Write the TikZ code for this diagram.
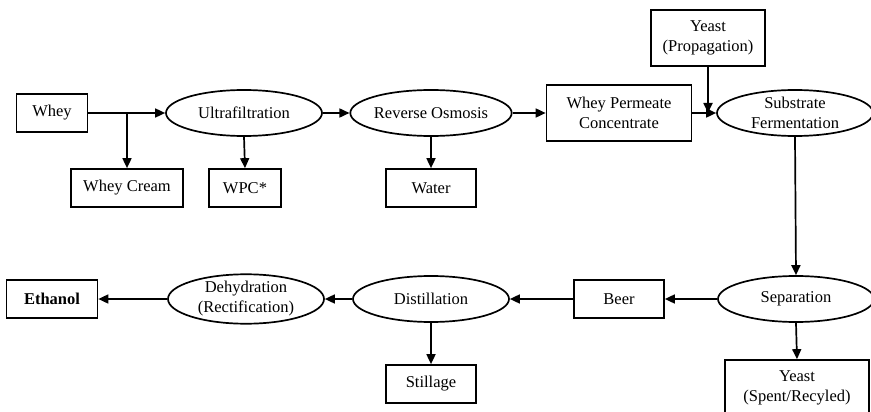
\documentclass[tikz,border=0pt]{standalone}
\usepackage{fontspec}
\setmainfont{Liberation Serif}
\usetikzlibrary{shapes.geometric, arrows.meta}

\begin{document}
\begin{tikzpicture}[x=1pt, y=-1pt, >={Triangle[length=10pt,width=9pt]}, font=\fontsize{16.5}{20}\selectfont]
    \tikzstyle{box} = [rectangle, draw=black, line width=1.7pt, minimum height=38pt, inner sep=2pt, align=center]
    \tikzstyle{tallbox} = [box, minimum height=56pt]
    \tikzstyle{unit} = [ellipse, draw=black, line width=1.7pt, minimum width=156pt, minimum height=46pt,
      inner sep=0pt, align=center]
    \tikzstyle{flow} = [->, line width=1.7pt]

    \useasboundingbox (0,0) rectangle (871,412);

    % Top row: whey through fermentation
    \node (whey)   [box, minimum width=71pt]       at (52,113)  {Whey};
    \node (ultra)  [unit]                          at (244,113) {Ultrafiltration};
    \node (ro)     [unit]                          at (431,113) {Reverse Osmosis};
    \node (perm)   [tallbox, minimum width=145pt]  at (619,113) {Whey Permeate\\Concentrate};
    \node (ferm)   [unit]                          at (795,113) {Substrate\\Fermentation};
    \node (yprop)  [tallbox, minimum width=114pt]  at (708,38)  {Yeast\\(Propagation)};

    % Side products of the top row
    \node (cream)  [box, minimum width=112pt]      at (127,188) {Whey Cream};
    \node (wpc)    [box, minimum width=72pt]       at (245,188) {WPC*};
    \node (water)  [box, minimum width=90pt]       at (431,188) {Water};

    % Bottom row: separation back to ethanol
    \node (sep)    [unit]                          at (796,299) {Separation};
    \node (beer)   [box, minimum width=90pt]       at (619,299) {Beer};
    \node (dist)   [unit]                          at (431,299) {Distillation};
    \node (dehyd)  [unit]                          at (246,299) {Dehydration\\(Rectification)};
    \node (ethanol)[box, minimum width=91pt]       at (52,299)  {\textbf{Ethanol}};

    % Side products of the bottom row
    \node (still)  [box, minimum width=90pt]       at (431,384) {Stillage};
    \node (yspent) [tallbox, minimum width=144pt]  at (797,388) {Yeast\\(Spent/Recyled)};

    % Whey -> Ultrafiltration, with cream taken off
    \draw [flow] (whey.east) -- (ultra.west);
    \draw [flow] (cream.north |- whey.east) -- (cream.north);

    % Ultrafiltration -> Reverse Osmosis -> permeate
    \draw [flow] (ultra.south) -- (wpc.north);
    \draw [flow] (ultra.east) -- (ro.west);
    \draw [flow] (ro.south) -- (water.north);
    \draw [flow] (ro.east) -- (perm.west);

    % permeate + yeast -> fermentation
    \draw [flow] (perm.east) -- (ferm.west);
    \draw [flow] (yprop.south) -- (yprop.south |- perm.east);

    % fermentation -> separation
    \draw [flow] (ferm.south) -- (sep.north);
    \draw [flow] (sep.south) -- (yspent.north);

    % bottom row, right to left
    \draw [flow] (sep.west) -- (beer.east);
    \draw [flow] (beer.west) -- (dist.east);
    \draw [flow] (dist.south) -- (still.north);
    \draw [flow] (dist.west) -- (dehyd.east);
    \draw [flow] (dehyd.west) -- (ethanol.east);
\end{tikzpicture}
\end{document}
